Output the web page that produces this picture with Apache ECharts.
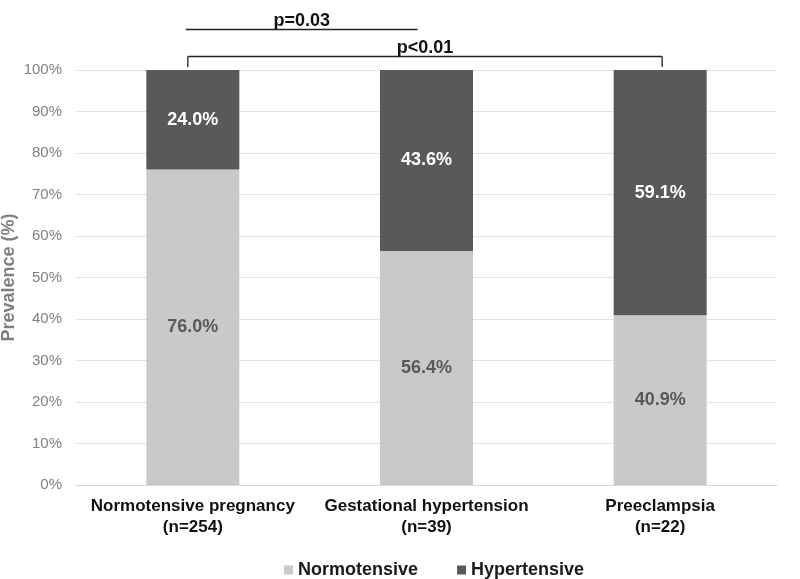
<!DOCTYPE html>
<html><head><meta charset="utf-8">
<script src="https://cdn.jsdelivr.net/npm/echarts@6/dist/echarts.min.js"></script>
<style>html,body{margin:0;padding:0;background:#fff}#c{width:800px;height:579px}</style>
</head><body><div id="c"></div>
<script>
const categories = ['Normotensive pregnancy\n(n=254)', 'Gestational hypertension\n(n=39)', 'Preeclampsia\n(n=22)'];
const normotensive = [76.0, 56.4, 40.9];
const hypertensive = [24.0, 43.6, 59.1];
const yTicks = [0, 10, 20, 30, 40, 50, 60, 70, 80, 90, 100];
const comparisons = [
  {from: 0, to: 1, text: 'p=0.03', level: 109.9, bracket: false},
  {from: 0, to: 2, text: 'p<0.01', level: 103.3, bracket: true}
];
const FONT = '"Liberation Sans", Arial, sans-serif';
const chart = echarts.init(document.getElementById('c'));
const labelStyle = (color) => ({show: true, position: 'inside', formatter: p => p.value.toFixed(1) + '%', color: color, fontWeight: 'bold', fontSize: 18, fontFamily: FONT});
chart.setOption({
  animation: false,
  grid: {left: 76, right: 23, top: 70, bottom: 94, containLabel: false, outerBoundsMode: 'none'},
  legend: {
    top: 556, left: 279, itemWidth: 9, itemHeight: 9, itemGap: 39,
    textStyle: {fontSize: 18, fontWeight: 'bold', color: '#1a1a1a', fontFamily: FONT},
    icon: 'rect', data: ['Normotensive', 'Hypertensive']
  },
  xAxis: {
    type: 'category', data: categories,
    axisLine: {lineStyle: {color: '#d9d9d9'}}, axisTick: {show: false},
    axisLabel: {color: '#111', fontWeight: 'bold', fontSize: 17, lineHeight: 21, margin: 11, fontFamily: FONT, interval: 0}
  },
  yAxis: {
    type: 'value', min: yTicks[0], max: yTicks[yTicks.length - 1], interval: 10,
    name: 'Prevalence (%)', nameLocation: 'middle', nameGap: 58, nameRotate: 90, nameMoveOverlap: false,
    nameTextStyle: {color: '#7f7f7f', fontWeight: 'bold', fontSize: 18, fontFamily: FONT},
    axisLabel: {formatter: '{value}%', color: '#808080', fontSize: 15, fontFamily: FONT, margin: 14},
    splitLine: {lineStyle: {color: '#e3e3e3'}}, axisLine: {show: false}, axisTick: {show: false}
  },
  series: [
    {name: 'Normotensive', type: 'bar', stack: 'a', data: normotensive, barWidth: 93,
     itemStyle: {color: '#c9c9c9'}, label: labelStyle('#595959')},
    {name: 'Hypertensive', type: 'bar', stack: 'a', data: hypertensive, barWidth: 93,
     itemStyle: {color: '#595959'}, label: labelStyle('#ffffff')}
  ]
});
const g = [];
comparisons.forEach(c => {
  const a = chart.convertToPixel({xAxisIndex: 0, yAxisIndex: 0}, [c.from, c.level]);
  const b = chart.convertToPixel({xAxisIndex: 0, yAxisIndex: 0}, [c.to, c.level]);
  const top100 = chart.convertToPixel({xAxisIndex: 0, yAxisIndex: 0}, [c.from, 100])[1];
  const y = Math.round(a[1]) + 0.5;
  const x1 = c.bracket ? a[0] - 5 : a[0] - 7;
  const x2 = c.bracket ? b[0] + 2 : b[0] - 9;
  g.push({type: 'line', shape: {x1: x1, y1: y, x2: x2, y2: y}, style: {stroke: '#222', lineWidth: 1.3}});
  if (c.bracket) {
    g.push({type: 'line', shape: {x1: x1, y1: y, x2: x1, y2: top100 - 3}, style: {stroke: '#222', lineWidth: 1.3}});
    g.push({type: 'line', shape: {x1: x2, y1: y, x2: x2, y2: top100 - 3}, style: {stroke: '#222', lineWidth: 1.3}});
  }
  g.push({type: 'text', x: (x1 + x2) / 2, y: y - 8, style: {text: c.text, fill: '#111', font: 'bold 18px ' + FONT, textAlign: 'center', textVerticalAlign: 'middle'}});
});
chart.setOption({graphic: g});
</script></body></html>
